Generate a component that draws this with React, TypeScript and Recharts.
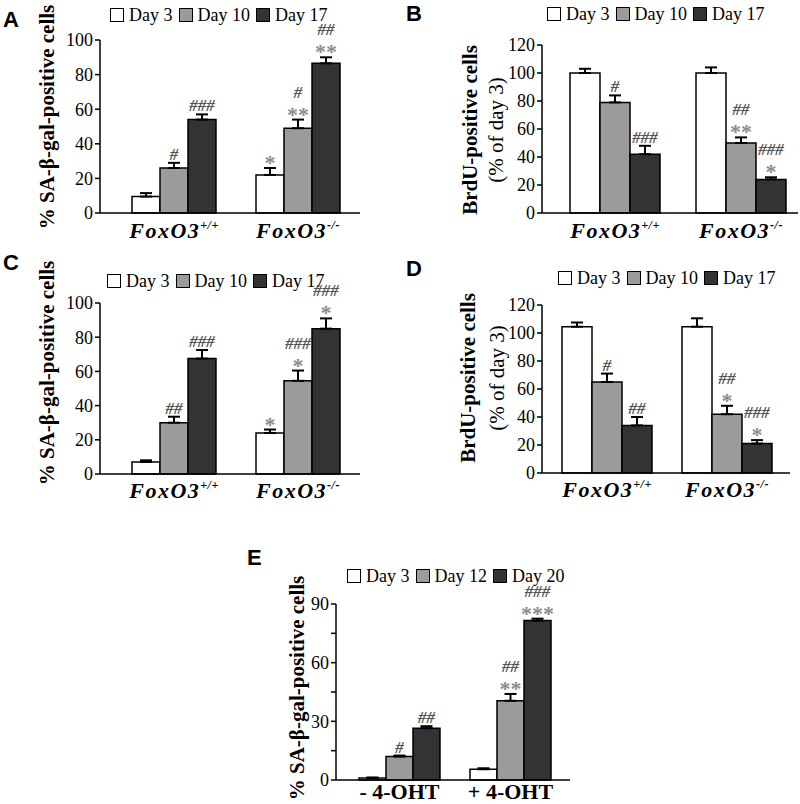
import React from 'react';
import { BarChart, Bar, XAxis, YAxis, ErrorBar, LabelList, Legend } from 'recharts';

const SERIF = "'Liberation Serif', 'DejaVu Serif', 'Noto Serif', serif";
const SANS = "'Liberation Sans', Arial, sans-serif";

const foxGroups = ['FoxO3+/+', 'FoxO3-/-'];
const ohtGroups = ['- 4-OHT', '+ 4-OHT'];
const days17 = ['Day 3', 'Day 10', 'Day 17'];
const days20 = ['Day 3', 'Day 12', 'Day 20'];
const barColors = ['#ffffff', '#9b9b9b', '#333333'];

// A - SA-beta-gal
const aDay3 = [9.5, 22];
const aDay3Err = [2, 4];
const aDay3Sig = ['', '*'];
const aDay10 = [26, 49];
const aDay10Err = [3, 5];
const aDay10Sig = ['#', '#\n**'];
const aDay17 = [54, 86.5];
const aDay17Err = [3, 3.5];
const aDay17Sig = ['###', '##\n**'];

// B - BrdU
const bDay3 = [100, 100];
const bDay3Err = [3, 4];
const bDay3Sig = ['', ''];
const bDay10 = [79, 50];
const bDay10Err = [5, 4];
const bDay10Sig = ['#', '##\n**'];
const bDay17 = [42, 24];
const bDay17Err = [6, 1.5];
const bDay17Sig = ['###', '###\n*'];

// C - SA-beta-gal
const cDay3 = [7, 24];
const cDay3Err = [1, 2];
const cDay3Sig = ['', '*'];
const cDay10 = [30, 54.5];
const cDay10Err = [3.5, 6];
const cDay10Sig = ['##', '###\n*'];
const cDay17 = [67.5, 85];
const cDay17Err = [5, 6];
const cDay17Sig = ['###', '###\n*'];

// D - BrdU
const dDay3 = [104.5, 104.5];
const dDay3Err = [3, 6];
const dDay3Sig = ['', ''];
const dDay10 = [65, 42];
const dDay10Err = [6, 6];
const dDay10Sig = ['#', '##\n*'];
const dDay17 = [34, 21];
const dDay17Err = [6, 2.5];
const dDay17Sig = ['##', '###\n*'];

// E - 4-OHT
const eDay3 = [1, 5.5];
const eDay3Err = [0.3, 0.5];
const eDay3Sig = ['', ''];
const eDay12 = [12, 40.5];
const eDay12Err = [0.5, 3.5];
const eDay12Sig = ['#', '##\n**'];
const eDay20 = [26.5, 81.5];
const eDay20Err = [1, 1];
const eDay20Sig = ['##', '###\n***'];

const tickSA = [0, 20, 40, 60, 80, 100];
const tickBrdU = [0, 20, 40, 60, 80, 100, 120];
const tickE = [0, 15, 30, 45, 60, 75, 90];

function makeRows(groups: string[], vals: number[][], errs: number[][], sigs: string[][]) {
  return groups.map((g, i) => {
    const row: any = { group: g };
    vals.forEach((v, s) => {
      row['v' + s] = v[i];
      row['e' + s] = [0, errs[s][i]];
      row['m' + s] = sigs[s][i];
    });
    return row;
  });
}

const Marks = (props: any) => {
  const { x, y, width, value, err, ppu } = props;
  if (!value) return null;
  const lines = String(value).split('\n').reverse();
  const cx = Number(x) + Number(width) / 2;
  const top = Number(y) - err * ppu;
  return (
    <g>
      {lines.map((ln, i) => {
        const c = top - 9 - 19 * i;
        const star = ln.includes('*');
        return (
          <text key={i} x={cx} y={star ? c + 11 : c + 6} textAnchor="middle" fontFamily={SERIF}
            fontSize={star ? 22 : 17} fontWeight="bold" fontStyle={star ? 'normal' : 'italic'}
            fill={star ? '#8c8c8c' : '#555'}>
            {ln}
          </text>
        );
      })}
    </g>
  );
};

const GroupTick = (props: any) => {
  const { x, y, payload, dy } = props;
  const label: string = payload.value;
  const m = label.match(/^(FoxO3)(.*)$/);
  if (m) {
    return (
      <text x={x} y={y + dy} textAnchor="middle" fontFamily={SERIF} fontSize={22}
        fontWeight="bold" fontStyle="italic" letterSpacing={1.5} fill="#000">
        <tspan>{m[1]}</tspan>
        <tspan fontSize={12} dy={-9} letterSpacing={0.5}>{m[2]}</tspan>
      </text>
    );
  }
  return (
    <text x={x} y={y + dy} textAnchor="middle" fontFamily={SERIF} fontSize={22} fontWeight="bold" fill="#000">
      {label}
    </text>
  );
};

const LegendRow = ({ names }: { names: string[] }) => (
  <div style={{ display: 'flex', alignItems: 'center', fontFamily: SERIF, fontSize: 18, color: '#000', lineHeight: '18px' }}>
    {names.map((n, i) => (
      <div key={n} style={{ display: 'flex', alignItems: 'center', marginRight: 6 }}>
        <span style={{ display: 'inline-block', width: 14, height: 14, boxSizing: 'border-box', border: '1.5px solid #000', background: barColors[i], marginRight: 5 }} />
        <span>{n}</span>
      </div>
    ))}
  </div>
);

type PanelProps = {
  pos: { left: number; top: number };
  width: number;
  height: number;
  margin: { top: number; right: number; bottom: number; left: number };
  xHeight: number;
  yWidth: number;
  yMax: number;
  ticks: number[];
  tickFmt?: (v: number) => string;
  rows: any[];
  names: string[];
  errs: number[][];
  barSize: number;
  xPad: { left: number; right: number };
  labelDy: number;
  letter: string;
  letterPos: [number, number];
  titles: { text: string; x: number; bold: boolean }[];
  titleY: number;
  legendPos: { left: number; top: number };
};

const Panel = (p: PanelProps) => {
  const plotH = p.height - p.margin.top - p.margin.bottom - p.xHeight;
  const ppu = plotH / p.yMax;
  return (
    <div style={{ position: 'absolute', left: p.pos.left, top: p.pos.top }}>
      <BarChart width={p.width} height={p.height} data={p.rows} margin={p.margin} barGap={0}>
        <XAxis dataKey="group" height={p.xHeight} padding={p.xPad} tickLine={false} tickSize={0} tickMargin={0}
          axisLine={{ stroke: '#000', strokeWidth: 1.5 }} interval={0}
          tick={<GroupTick dy={p.labelDy} />} />
        <YAxis width={p.yWidth} domain={[0, p.yMax]} ticks={p.ticks} interval={0} tickSize={5} tickMargin={2}
          tickFormatter={p.tickFmt} axisLine={{ stroke: '#000', strokeWidth: 1.5 }}
          tickLine={{ stroke: '#000', strokeWidth: 1.5 }}
          tick={{ fontFamily: SERIF, fontSize: 18, fill: '#000' }} />
        <Legend verticalAlign="middle" align="center" layout="horizontal"
          wrapperStyle={{ top: p.legendPos.top, left: p.legendPos.left, width: 'auto' }}
          content={<LegendRow names={p.names} />} />
        {p.names.map((n, s) => (
          <Bar key={n} dataKey={'v' + s} name={n} fill={barColors[s]} stroke="#000" strokeWidth={1.5}
            barSize={p.barSize} isAnimationActive={false}>
            <ErrorBar dataKey={'e' + s} width={6} stroke="#000" strokeWidth={2} direction="y" isAnimationActive={false} />
            <LabelList dataKey={'m' + s} content={(lp: any) => <Marks {...lp} err={p.errs[s][lp.index]} ppu={ppu} />} />
          </Bar>
        ))}
        {p.titles.map((t) => (
          <text key={t.text} x={t.x} y={p.titleY} transform={`rotate(-90, ${t.x}, ${p.titleY})`} textAnchor="middle"
            dominantBaseline="central" fontFamily={SERIF} fontSize={21} fontWeight={t.bold ? 'bold' : 'normal'} fill="#000">
            {t.text}
          </text>
        ))}
        <text x={p.letterPos[0]} y={p.letterPos[1]} fontFamily={SANS} fontSize={22} fontWeight="bold" fill="#000">
          {p.letter}
        </text>
      </BarChart>
    </div>
  );
};

const saTitle = '% SA-\u03b2-gal-positive cells';

export default function App() {
  const rowsA = makeRows(foxGroups, [aDay3, aDay10, aDay17], [aDay3Err, aDay10Err, aDay17Err], [aDay3Sig, aDay10Sig, aDay17Sig]);
  const rowsB = makeRows(foxGroups, [bDay3, bDay10, bDay17], [bDay3Err, bDay10Err, bDay17Err], [bDay3Sig, bDay10Sig, bDay17Sig]);
  const rowsC = makeRows(foxGroups, [cDay3, cDay10, cDay17], [cDay3Err, cDay10Err, cDay17Err], [cDay3Sig, cDay10Sig, cDay17Sig]);
  const rowsD = makeRows(foxGroups, [dDay3, dDay10, dDay17], [dDay3Err, dDay10Err, dDay17Err], [dDay3Sig, dDay10Sig, dDay17Sig]);
  const rowsE = makeRows(ohtGroups, [eDay3, eDay12, eDay20], [eDay3Err, eDay12Err, eDay20Err], [eDay3Sig, eDay12Sig, eDay20Sig]);

  return (
    <div style={{ position: 'absolute', left: 0, top: 0, width: 800, height: 804, background: '#fff', overflow: 'hidden' }}>
      <Panel pos={{ left: 0, top: 0 }} width={370} height={250}
        margin={{ top: 40, right: 10, bottom: 7, left: 0 }} xHeight={30} yWidth={100}
        yMax={100} ticks={tickSA} rows={rowsA} names={days17} errs={[aDay3Err, aDay10Err, aDay17Err]}
        barSize={28} xPad={{ left: 12, right: 0 }} labelDy={25}
        letter="A" letterPos={[3, 27]} titles={[{ text: saTitle, x: 47, bold: true }]} titleY={117}
        legendPos={{ left: 110, top: 6 }} />
      <Panel pos={{ left: 400, top: 0 }} width={400} height={250}
        margin={{ top: 45, right: 2, bottom: 7, left: 0 }} xHeight={30} yWidth={142}
        yMax={120} ticks={tickBrdU} rows={rowsB} names={days17} errs={[bDay3Err, bDay10Err, bDay17Err]}
        barSize={30} xPad={{ left: 10, right: -6 }} labelDy={25}
        letter="B" letterPos={[6, 21]}
        titles={[{ text: 'BrdU-positive cells', x: 70, bold: true }, { text: '(% of day 3)', x: 96, bold: false }]} titleY={130}
        legendPos={{ left: 147, top: 5 }} />
      <Panel pos={{ left: 0, top: 250 }} width={370} height={260}
        margin={{ top: 53, right: 10, bottom: 6, left: 0 }} xHeight={30} yWidth={100}
        yMax={100} ticks={tickSA} rows={rowsC} names={days17} errs={[cDay3Err, cDay10Err, cDay17Err]}
        barSize={28} xPad={{ left: 12, right: 0 }} labelDy={24}
        letter="C" letterPos={[3, 20]} titles={[{ text: saTitle, x: 47, bold: true }]} titleY={123}
        legendPos={{ left: 107, top: 22 }} />
      <Panel pos={{ left: 400, top: 250 }} width={400} height={260}
        margin={{ top: 55, right: 10, bottom: 7, left: 0 }} xHeight={30} yWidth={142}
        yMax={120} ticks={tickBrdU} rows={rowsD} names={days17} errs={[dDay3Err, dDay10Err, dDay17Err]}
        barSize={30} xPad={{ left: 5, right: 3 }} labelDy={24}
        letter="D" letterPos={[6, 26]}
        titles={[{ text: 'BrdU-positive cells', x: 68, bold: true }, { text: '(% of day 3)', x: 97, bold: false }]} titleY={128}
        legendPos={{ left: 158, top: 19 }} />
      <Panel pos={{ left: 200, top: 520 }} width={400} height={284}
        margin={{ top: 84, right: 30, bottom: 0, left: 0 }} xHeight={24} yWidth={136}
        yMax={90} ticks={tickE} tickFmt={(v: number) => (v % 30 === 0 ? String(v) : '')}
        rows={rowsE} names={days20} errs={[eDay3Err, eDay12Err, eDay20Err]}
        barSize={27} xPad={{ left: 8, right: 4 }} labelDy={19}
        letter="E" letterPos={[47, 45]} titles={[{ text: saTitle, x: 97, bold: true }]} titleY={168}
        legendPos={{ left: 147, top: 47 }} />
    </div>
  );
}
